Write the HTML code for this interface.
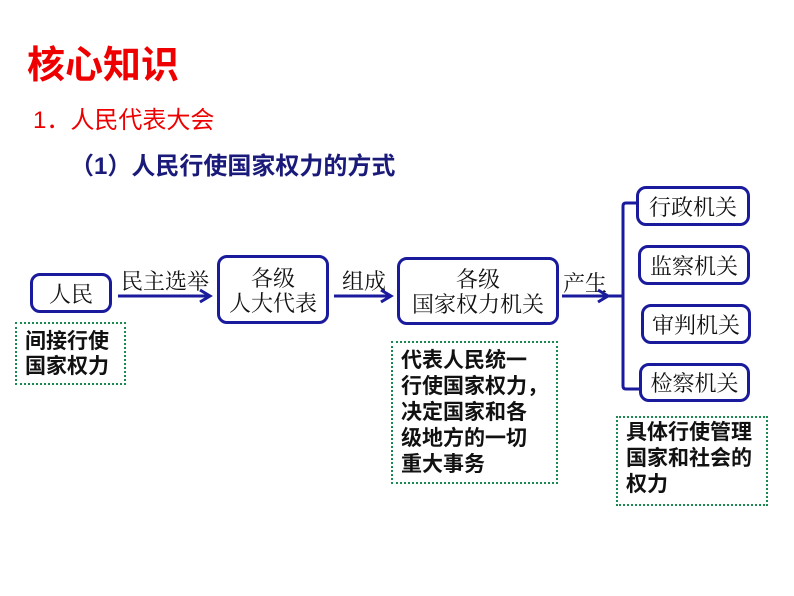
<!DOCTYPE html>
<html><head><meta charset="utf-8"><style>
body{margin:0;width:794px;height:596px;background:#fff;position:relative;overflow:hidden;font-family:"Liberation Sans","Noto Sans CJK SC",sans-serif}
.a{position:absolute;white-space:nowrap}
.b{position:absolute;border:3px solid #1a1a9c;border-radius:10px;box-sizing:border-box;display:flex;align-items:center;justify-content:center;text-align:center;font-family:"Noto Serif CJK SC",serif;font-size:22px;line-height:25px;color:#111}
.g{position:absolute;border:2.5px dotted #1a8a50;box-sizing:border-box;font-weight:bold;font-size:21px;line-height:26px;color:#111;padding:4px 0 0 8px;white-space:nowrap}
.l{position:absolute;font-family:"Noto Serif CJK SC",serif;font-size:22px;color:#111}
</style></head><body>
<div class="a" style="left:27px;top:34px;font-size:38px;font-weight:bold;color:#e00">核心知识</div>
<div class="a" style="left:33px;top:100px;font-size:24px;color:#e00">1．人民代表大会</div>
<div class="a" style="left:70px;top:146px;font-size:24px;font-weight:bold;color:#1a1a7a">（1）人民行使国家权力的方式</div>

<div class="b" style="left:30px;top:273px;width:82px;height:40px">人民</div>
<div class="b" style="left:217px;top:255px;width:112px;height:69px">各级<br>人大代表</div>
<div class="b" style="left:397px;top:257px;width:162px;height:68px">各级<br>国家权力机关</div>
<div class="b" style="left:636px;top:186px;width:114px;height:40px">行政机关</div>
<div class="b" style="left:638px;top:245px;width:112px;height:40px">监察机关</div>
<div class="b" style="left:641px;top:304px;width:110px;height:40px">审判机关</div>
<div class="b" style="left:639px;top:363px;width:111px;height:39px">检察机关</div>

<div class="l" style="left:121px;top:265px">民主选举</div>
<div class="l" style="left:342px;top:265px">组成</div>
<div class="l" style="left:563px;top:267px">产生</div>

<svg class="a" style="left:0;top:0" width="794" height="596">
<g stroke="#1a1a9c" stroke-width="3" fill="none">
<line x1="118" y1="296" x2="208" y2="296"/><polyline points="200,290 210,296 200,302"/>
<line x1="334" y1="296" x2="389" y2="296"/><polyline points="381,290 391,296 381,302"/>
<line x1="562" y1="296" x2="606" y2="296"/><polyline points="598,290 608,296 598,302"/>
<line x1="608" y1="296" x2="623" y2="296"/>
<path d="M636,203 H626 Q623,203 623,206 V386 Q623,389 626,389 H639"/>
</g></svg>

<div class="g" style="left:15px;top:322px;width:111px;height:63px;line-height:25px;padding-top:5px">间接行使<br>国家权力</div>
<div class="g" style="left:391px;top:341px;width:167px;height:143px;padding-top:5px">代表人民统一<br>行使国家权力，<br>决定国家和各<br>级地方的一切<br>重大事务</div>
<div class="g" style="left:616px;top:416px;width:152px;height:90px;padding-top:2px">具体行使管理<br>国家和社会的<br>权力</div>
</body></html>
